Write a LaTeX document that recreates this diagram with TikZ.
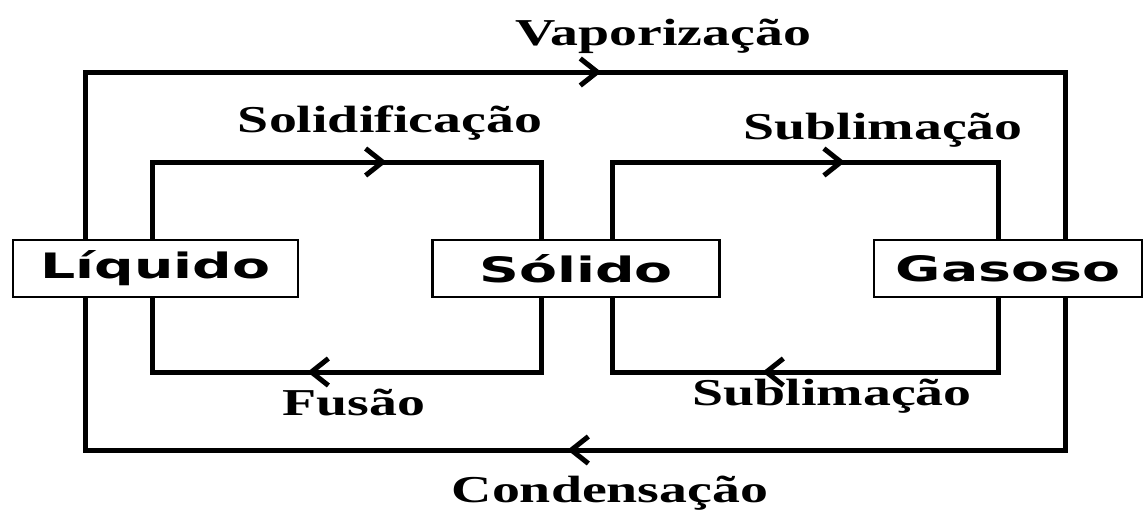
\documentclass[tikz,border=0pt]{standalone}
\usepackage{fontspec}
\usetikzlibrary{arrows.meta,decorations.markings,positioning}
\newfontfamily\statefont[FakeStretch=1.58]{DejaVu Sans}
\newfontfamily\changefont[FakeStretch=1.47]{Liberation Serif}

\begin{document}
\begin{tikzpicture}[x=1pt, y=-1pt,
    state/.style={rectangle, draw, line width=2.5pt, minimum height=57pt,
    inner sep=0pt, font=\statefont\bfseries\fontsize{35}{35}\selectfont},
    change/.style={inner sep=0pt, anchor=base,
    font=\changefont\bfseries\fontsize{38}{38}\selectfont},
    line/.style={draw, line width=5pt},
    midarrow/.style={postaction={decorate, decoration={markings,
    mark=at position #1 with {\arrow{Straight Barb[length=17pt,width=27pt]}}}}}]

\useasboundingbox (0,0) rectangle (1147,512);

\node [state, minimum width=285pt] (liquido) at (155.5,268.5) {Líquido};
\node [state, minimum width=287pt, right=132pt of liquido] (solido) {Sólido};
\node [state, minimum width=268pt, right=152pt of solido] (gasoso) {Gasoso};

% outer loop
\path [line, midarrow=0.52] (liquido.north -| 85,0) -- (85,72) -- (1065,72) -- (gasoso.north -| 1065,0);
\path [line, midarrow=0.506] (gasoso.south -| 1065,0) -- (1065,450) -- (85,450) -- (liquido.south -| 85,0);
% left loop
\path [line, midarrow=0.574] (liquido.north -| 152,0) -- (152,162) -- (541,162) -- (solido.north -| 541,0);
\path [line, midarrow=0.573] (solido.south -| 541,0) -- (541,372) -- (152,372) -- (liquido.south -| 152,0);
% right loop
\path [line, midarrow=0.574] (solido.north -| 612,0) -- (612,162) -- (998,162) -- (gasoso.north -| 998,0);
\path [line, midarrow=0.58] (gasoso.south -| 998,0) -- (998,372) -- (612,372) -- (solido.south -| 612,0);

\node [change] (vaporizacao) at (663,45) {Vaporização};
\node [change] (solidificacao) at (390,132) {Solidificação};
\node [change] (sublimacao) at (883,139) {Sublimação};
\node [change] (fusao) at (354,415) {Fusão};
\node [change] (sublimacaob) at (832,405) {Sublimação};
\node [change] (condensacao) at (610,502) {Condensação};
\end{tikzpicture}
\end{document}
